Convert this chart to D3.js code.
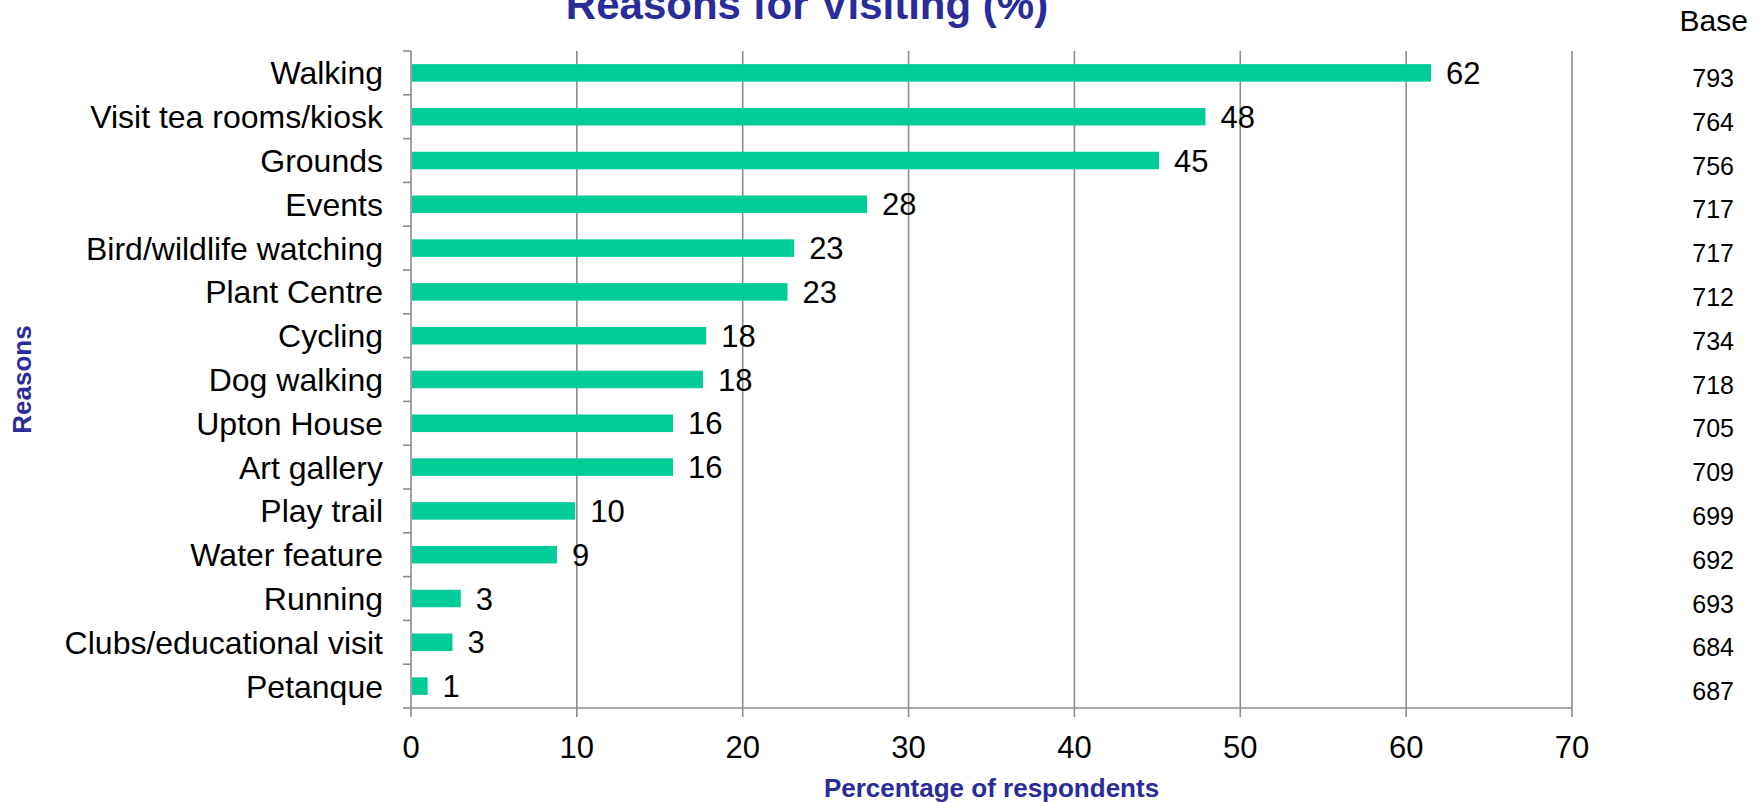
<!DOCTYPE html>
<html>
<head>
<meta charset="utf-8">
<title>Reasons for Visiting (%)</title>
<style type="text/css">
    body {
        margin: 0;
        background: #fff;
        font-family: "Liberation Sans", Arial, sans-serif;
    }

    .grid line {
        stroke: #8c8c8c;
        stroke-width: 1.6;
    }

    .bar {
        fill: #00cc99;
    }

    .axis-title {
        fill: #2b2b99;
        font-weight: bold;
    }
</style>
</head>
<body>
<script src="https://d3js.org/d3.v7.min.js"></script>
<script type="text/javascript">

    // data
    var reasons = ["Walking", "Visit tea rooms/kiosk", "Grounds", "Events", "Bird/wildlife watching",
        "Plant Centre", "Cycling", "Dog walking", "Upton House", "Art gallery", "Play trail",
        "Water feature", "Running", "Clubs/educational visit", "Petanque"];
    var percents = [61.5, 47.9, 45.1, 27.5, 23.1, 22.7, 17.8, 17.6, 15.8, 15.8, 9.9, 8.8, 3.0, 2.5, 1.0];
    var bases = [793, 764, 756, 717, 717, 712, 734, 718, 705, 709, 699, 692, 693, 684, 687];
    var xTicks = [0, 10, 20, 30, 40, 50, 60, 70];

    var width = 1763, height = 802;
    var margin = { top: 51, right: 191, bottom: 94, left: 411 };
    var plotW = width - margin.left - margin.right,
        plotH = height - margin.top - margin.bottom;

    var svg = d3.select("body").append("svg")
        .attr("width", width)
        .attr("height", height);

    var g = svg.append("g")
        .attr("transform", "translate(" + margin.left + "," + margin.top + ")");

    var x = d3.scaleLinear()
        .domain([0, 70])
        .range([0, plotW]);

    var y = d3.scaleBand()
        .domain(reasons)
        .range([0, plotH])
        .paddingInner(0.6)
        .paddingOuter(0.3);

    var step = y.step();

    // vertical gridlines
    g.append("g")
        .attr("class", "grid")
        .selectAll("line")
        .data(xTicks)
        .enter().append("line")
        .attr("x1", function (d) { return x(d); })
        .attr("x2", function (d) { return x(d); })
        .attr("y1", 0)
        .attr("y2", plotH + 9);

    // category tick marks at band edges
    var edges = d3.range(reasons.length + 1);
    g.append("g")
        .attr("class", "grid")
        .selectAll("line")
        .data(edges)
        .enter().append("line")
        .attr("x1", -8)
        .attr("x2", 0)
        .attr("y1", function (d) { return d * step; })
        .attr("y2", function (d) { return d * step; });

    // bottom axis line
    g.append("g")
        .attr("class", "grid")
        .append("line")
        .attr("x1", 0)
        .attr("x2", plotW)
        .attr("y1", plotH)
        .attr("y2", plotH);

    // bars
    g.selectAll(".bar")
        .data(percents)
        .enter().append("rect")
        .attr("class", "bar")
        .attr("x", x(0) + 1)
        .attr("y", function (d, i) { return y(reasons[i]); })
        .attr("width", function (d) { return x(d) - x(0) - 1; })
        .attr("height", y.bandwidth());

    // value labels
    g.append("g")
        .selectAll("text")
        .data(percents)
        .enter().append("text")
        .attr("x", function (d) { return x(d) + 15; })
        .attr("y", function (d, i) { return y(reasons[i]) + y.bandwidth() / 2; })
        .attr("dy", "0.36em")
        .style("font-size", "31px")
        .style("fill", "#000")
        .text(function (d) { return Math.round(d); });

    // category labels
    g.append("g")
        .selectAll("text")
        .data(reasons)
        .enter().append("text")
        .attr("x", -28)
        .attr("y", function (d) { return y(d) + y.bandwidth() / 2; })
        .attr("dy", "0.36em")
        .attr("text-anchor", "end")
        .style("font-size", "32px")
        .style("fill", "#000")
        .text(function (d) { return d; });

    // x tick labels
    g.append("g")
        .selectAll("text")
        .data(xTicks)
        .enter().append("text")
        .attr("x", function (d) { return x(d); })
        .attr("y", plotH + 50)
        .attr("text-anchor", "middle")
        .style("font-size", "31px")
        .style("fill", "#000")
        .text(function (d) { return d; });

    // base column
    svg.append("text")
        .attr("x", 1748)
        .attr("y", 31)
        .attr("text-anchor", "end")
        .style("font-size", "30px")
        .text("Base");

    g.append("g")
        .selectAll("text")
        .data(bases)
        .enter().append("text")
        .attr("x", 1734 - margin.left)
        .attr("y", function (d, i) { return y(reasons[i]) + y.bandwidth() / 2 + 5; })
        .attr("dy", "0.36em")
        .attr("text-anchor", "end")
        .style("font-size", "25px")
        .text(function (d) { return d; });

    // titles
    svg.append("text")
        .attr("class", "axis-title")
        .attr("x", 807)
        .attr("y", 19)
        .attr("text-anchor", "middle")
        .style("font-size", "42px")
        .text("Reasons for Visiting (%)");

    svg.append("text")
        .attr("class", "axis-title")
        .attr("x", margin.left + plotW / 2)
        .attr("y", 797)
        .attr("text-anchor", "middle")
        .style("font-size", "26px")
        .text("Percentage of respondents");

    svg.append("text")
        .attr("class", "axis-title")
        .attr("transform", "translate(31," + (margin.top + plotH / 2) + ") rotate(-90)")
        .attr("text-anchor", "middle")
        .style("font-size", "26px")
        .text("Reasons");

</script>
</body>
</html>
